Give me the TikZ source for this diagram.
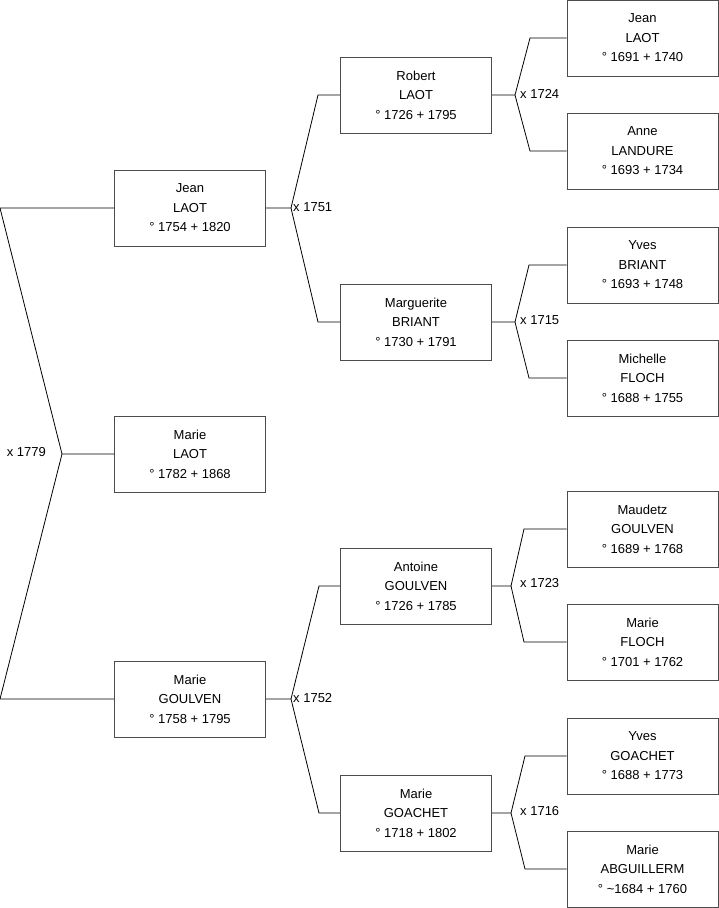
\documentclass[tikz,border=0pt]{standalone}
\usepackage{fontspec}
\setmainfont{Liberation Sans}
\begin{document}
\begin{tikzpicture}[
    x=1pt, y=-1pt,
    every node/.style={font=\fontsize{13}{19.5}\selectfont},
    person/.style={
        draw=black!70,
        line width=1pt,
        minimum width=151pt,
        minimum height=76pt,
        inner sep=0pt,
        align=center
    },
    link/.style={line width=0.8pt},
    wedding/.style={inner sep=1pt}
]

    \useasboundingbox (0,0) rectangle (719,908);

    % Generation 1
    \node[person] (marieL) at (190,454) {Marie\\LAOT\\° 1782 + 1868};

    % Generation 2
    \node[person] (jean) at (190,208) {Jean\\LAOT\\° 1754 + 1820};
    \node[person] (marieG) at (190,699) {Marie\\GOULVEN\\° 1758 + 1795};

    % Generation 3
    \node[person] (robert) at (416,95) {Robert\\LAOT\\° 1726 + 1795};
    \node[person] (marguerite) at (416,322) {Marguerite\\BRIANT\\° 1730 + 1791};
    \node[person] (antoine) at (416,586) {Antoine\\GOULVEN\\° 1726 + 1785};
    \node[person] (marieGo) at (416,813) {Marie\\GOACHET\\° 1718 + 1802};

    % Generation 4
    \node[person] (jeanL) at (642.5,38) {Jean\\LAOT\\° 1691 + 1740};
    \node[person] (anne) at (642.5,151) {Anne\\LANDURE\\° 1693 + 1734};
    \node[person] (yves) at (642.5,265) {Yves\\BRIANT\\° 1693 + 1748};
    \node[person] (michelle) at (642.5,378) {Michelle\\FLOCH\\° 1688 + 1755};
    \node[person] (maudetz) at (642.5,529) {Maudetz\\GOULVEN\\° 1689 + 1768};
    \node[person] (marieF) at (642.5,642) {Marie\\FLOCH\\° 1701 + 1762};
    \node[person] (yvesG) at (642.5,756) {Yves\\GOACHET\\° 1688 + 1773};
    \node[person] (marieA) at (642.5,869) {Marie\\ABGUILLERM\\° \textasciitilde1684 + 1760};

    % Fork points
    \coordinate (f0) at (62,454);
    \coordinate (f0a) at (0,208);
    \coordinate (f0b) at (0,699);
    \coordinate (f1) at (291,208);
    \coordinate (f1a) at (318,95);
    \coordinate (f1b) at (318,322);
    \coordinate (f2) at (291,699);
    \coordinate (f2a) at (319,586);
    \coordinate (f2b) at (319,813);
    \coordinate (f3) at (515,95);
    \coordinate (f3a) at (530,38);
    \coordinate (f3b) at (530,151);
    \coordinate (f4) at (515,322);
    \coordinate (f4a) at (529,265);
    \coordinate (f4b) at (529,378);
    \coordinate (f5) at (511,586);
    \coordinate (f5a) at (524,529);
    \coordinate (f5b) at (524,642);
    \coordinate (f6) at (511,813);
    \coordinate (f6a) at (525,756);
    \coordinate (f6b) at (525,869);

    % Connectors
    \draw[link] (marieL.west) -- (f0) -- (f0a) -- (jean.west);
    \draw[link] (f0) -- (f0b) -- (marieG.west);
    \draw[link] (jean.east) -- (f1) -- (f1a) -- (robert.west);
    \draw[link] (f1) -- (f1b) -- (marguerite.west);
    \draw[link] (marieG.east) -- (f2) -- (f2a) -- (antoine.west);
    \draw[link] (f2) -- (f2b) -- (marieGo.west);
    \draw[link] (robert.east) -- (f3) -- (f3a) -- (jeanL.west);
    \draw[link] (f3) -- (f3b) -- (anne.west);
    \draw[link] (marguerite.east) -- (f4) -- (f4a) -- (yves.west);
    \draw[link] (f4) -- (f4b) -- (michelle.west);
    \draw[link] (antoine.east) -- (f5) -- (f5a) -- (maudetz.west);
    \draw[link] (f5) -- (f5b) -- (marieF.west);
    \draw[link] (marieGo.east) -- (f6) -- (f6a) -- (yvesG.west);
    \draw[link] (f6) -- (f6b) -- (marieA.west);

    % Marriages
    \node[wedding, anchor=east] (w0) at (47,452) {x 1779};
    \node[wedding, anchor=west] (w1) at (292,207) {x 1751};
    \node[wedding, anchor=west] (w2) at (292,698) {x 1752};
    \node[wedding, anchor=west] (w3) at (519,94) {x 1724};
    \node[wedding, anchor=west] (w4) at (519,320) {x 1715};
    \node[wedding, anchor=west] (w5) at (519,583) {x 1723};
    \node[wedding, anchor=west] (w6) at (519,811) {x 1716};

\end{tikzpicture}
\end{document}
